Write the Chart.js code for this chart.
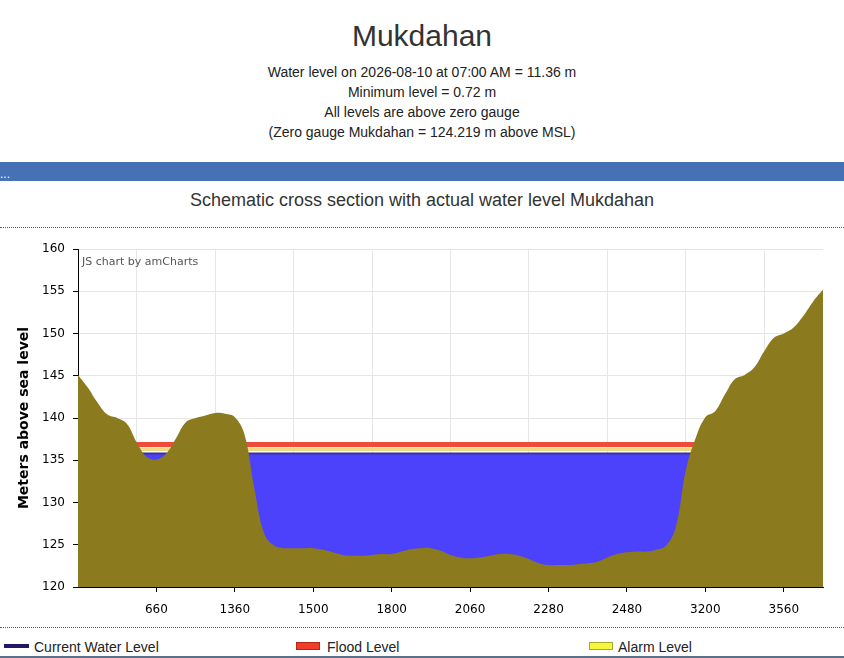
<!DOCTYPE html>
<html>
<head>
<meta charset="utf-8">
<title>Mukdahan</title>
<script src="https://cdn.jsdelivr.net/npm/chart.js@4.4.1/dist/chart.umd.min.js"></script>
<style>
  html, body { margin: 0; padding: 0; background: #fff; }
  body { width: 844px; height: 658px; position: relative; overflow: hidden;
         font-family: "Liberation Sans", Arial, sans-serif; color: #333; }
  .abs { position: absolute; left: 0; width: 844px; text-align: center; }
  #station { top: 18px; font-size: 30px; line-height: 36px; }
  #info { top: 62px; font-size: 14px; line-height: 20px; color: #222; }
  #bar { position: absolute; top: 162px; left: 0; width: 844px; height: 19px; background: #4671b4;
         color: #fff; font-size: 12px; line-height: 24px; }
  #heading { top: 188px; font-size: 18px; line-height: 24px; }
  .dots { position: absolute; left: 0; width: 844px; height: 0; border-top: 1px dotted #9c4040; }
  #chartBox { position: absolute; top: 228px; left: 0; width: 844px; height: 398px; }
  #credit { position: absolute; left: 82px; top: 255px; font: 11px "DejaVu Sans", Verdana, sans-serif; color: #555; }
  #legend { position: absolute; top: 637px; left: 0; width: 844px; height: 20px; font-size: 14px; line-height: 20px; color: #222; }
  .item { position: absolute; top: 0; }
  .sw { position: absolute; box-sizing: border-box; }
  #bottomLine { position: absolute; left: 0; top: 656px; width: 844px; height: 2px; background: #5b7089; }
</style>
</head>
<body>
<div class="abs" id="station">Mukdahan</div>
<div class="abs" id="info">
  Water level on 2026-08-10 at 07:00 AM = 11.36 m<br>
  Minimum level = 0.72 m<br>
  All levels are above zero gauge<br>
  (Zero gauge Mukdahan = 124.219 m above MSL)
</div>
<div id="bar">...</div>
<div class="abs" id="heading">Schematic cross section with actual water level Mukdahan</div>
<div class="dots" style="top:227px"></div>
<div id="chartBox"><canvas id="sectionChart"></canvas></div>
<div id="credit">JS chart by amCharts</div>
<div class="dots" style="top:627px"></div>
<div id="legend">
  <div class="sw" style="left:4px;top:7px;width:25px;height:4px;background:#22186a"></div>
  <div class="item" style="left:34px">Current Water Level</div>
  <div class="sw" style="left:296px;top:5px;width:24px;height:8px;background:#f03c28;border:1px solid #b02818"></div>
  <div class="item" style="left:327px">Flood Level</div>
  <div class="sw" style="left:589px;top:5px;width:24px;height:8px;background:#f6f63c;border:1px solid #a8a830"></div>
  <div class="item" style="left:618px">Alarm Level</div>
</div>
<div id="bottomLine"></div>

<script>
// distance labels shown on the axis (every 8th profile point)
const tickLabels = ['660', '1360', '1500', '1800', '2060', '2280', '2480', '3200', '3560'];

// ground profile, metres above sea level, read along the section
const groundLevel = [
  145.1, 143.6, 141.8, 140.4, 140.0, 139.3, 137.1, 135.4, 135.1, 135.8,
  137.6, 139.5, 140.0, 140.3, 140.6, 140.5, 140.1, 138.0, 131.6, 126.3,
  124.9, 124.6, 124.6, 124.6, 124.6, 124.4, 124.1, 123.8, 123.7, 123.7,
  123.8, 123.9, 123.9, 124.2, 124.5, 124.6, 124.6, 124.3, 123.8, 123.5,
  123.4, 123.5, 123.7, 123.9, 123.9, 123.7, 123.3, 122.8, 122.6, 122.6,
  122.6, 122.7, 122.8, 123.0, 123.5, 123.9, 124.1, 124.2, 124.2, 124.4,
  124.9, 127.2, 133.8, 137.6, 140.1, 140.8, 142.8, 144.6, 145.1, 146.0,
  147.9, 149.5, 150.0, 150.7, 152.1, 153.8, 155.2
];

const currentLevel = 135.8;
const alarmLevel = 136.3;
const floodLevel = 136.85;

const distanceLabels = groundLevel.map((_, j) => (j > 0 && j % 8 === 0) ? tickLabels[j / 8 - 1] : '');
const flat = v => groundLevel.map(() => v);
const tickFont = { family: '"DejaVu Sans", Verdana, sans-serif', size: 12 };

const ctx = document.getElementById('sectionChart').getContext('2d');
new Chart(ctx, {
  type: 'line',
  data: {
    labels: distanceLabels,
    datasets: [
      {
        label: 'Ground',
        data: groundLevel,
        order: 0,
        borderWidth: 0,
        borderColor: '#8b7a1e',
        backgroundColor: '#8b7a1e',
        fill: 'start',
        tension: 0.4,
        pointRadius: 0
      },
      {
        label: 'Flood Level',
        data: flat(floodLevel),
        order: 1,
        borderColor: '#f04a38',
        borderWidth: 5,
        fill: false,
        pointRadius: 0
      },
      {
        label: 'Alarm Level',
        data: flat(alarmLevel),
        order: 2,
        borderColor: '#f0d983',
        borderWidth: 3.5,
        fill: false,
        pointRadius: 0
      },
      {
        label: 'Current Water Level',
        data: flat(currentLevel),
        order: 3,
        borderColor: '#3d2fa0',
        borderWidth: 2,
        backgroundColor: '#4c42fb',
        fill: 'start',
        pointRadius: 0
      }
    ]
  },
  options: {
    responsive: true,
    maintainAspectRatio: false,
    animation: false,
    layout: { padding: { top: 21, right: 21, left: 0, bottom: 0 } },
    plugins: {
      legend: { display: false },
      title: { display: false },
      tooltip: { enabled: false }
    },
    scales: {
      x: {
        offset: false,
        border: { color: '#000', width: 1 },
        grid: {
          color: c => c.index % 8 === 6 ? '#e6e6e6' : 'rgba(0,0,0,0)',
          tickColor: c => (c.index > 0 && c.index % 8 === 0) ? '#000' : 'rgba(0,0,0,0)',
          tickLength: 5
        },
        ticks: {
          autoSkip: false,
          maxRotation: 0,
          padding: 11,
          color: '#000',
          font: tickFont,
          callback: (v, i) => distanceLabels[i]
        },
        afterFit: s => { s.height = 39; }
      },
      y: {
        min: 120,
        max: 160,
        border: { color: '#000', width: 1 },
        grid: { color: '#e6e6e6', tickColor: '#000', tickLength: 5 },
        ticks: { stepSize: 5, padding: 8, color: '#000', font: tickFont },
        title: {
          display: true,
          text: 'Meters above sea level',
          color: '#000',
          font: { family: '"DejaVu Sans", Verdana, sans-serif', size: 14, weight: 'bold' },
          padding: { top: 16, bottom: 0 }
        },
        afterFit: s => { s.width = 78; }
      }
    }
  }
});
</script>
</body>
</html>
